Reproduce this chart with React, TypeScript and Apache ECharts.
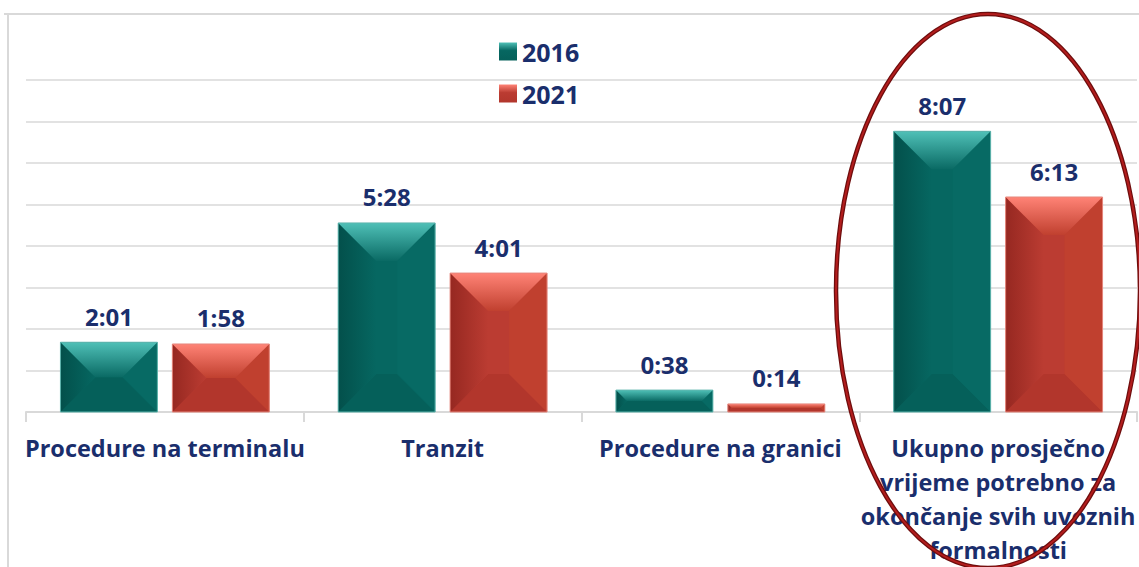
import React, { useEffect, useRef } from "react";
import * as echarts from "echarts";

const categories = [
  "Procedure na terminalu",
  "Tranzit",
  "Procedure na granici",
  "Ukupno prosječno\nvrijeme potrebno za\nokončanje svih uvoznih\nformalnosti",
];
const seriesNames = ["2016", "2021"];
// values in minutes
const values2016 = [121, 328, 38, 487];
const values2021 = [118, 241, 14, 373];
const yMax = 576;
const yInterval = 72;

const NAVY = "#1a2e6c";
const FONT = "'Open Sans', 'Noto Sans', sans-serif";

const fmt = (m: number) => `${Math.floor(m / 60)}:${String(m % 60).padStart(2, "0")}`;

const palettes = [
  {
    topA: "#4fc0b7",
    topB: "#0a6a64",
    left: "#03504b",
    leftB: "#066761",
    right: "#076a64",
    bottom: "#05605a",
    center: "#066761",
    edge: "#5fb5ae",
  },
  {
    topA: "#ff8376",
    topB: "#c0402f",
    left: "#962821",
    leftB: "#bb3c32",
    right: "#c0402f",
    bottom: "#b2362c",
    center: "#bb3c32",
    edge: "#e5877d",
  },
];

function makeRender(si: number) {
  const p = palettes[si];
  return (params: any, api: any) => {
    const ci = api.value(0);
    const v = api.value(1);
    const base = api.coord([ci, 0]);
    const topP = api.coord([ci, v]);
    const band = api.size([1, 0])[0];
    const w = band * 0.349;
    const gap = band * 0.054;
    const cx = base[0] + (si === 0 ? -(gap / 2 + w / 2) : gap / 2 + w / 2);
    const x0 = cx - w / 2;
    const x1 = cx + w / 2;
    const y0 = topP[1];
    const y1 = base[1];
    const h = y1 - y0;
    const b = Math.min(38, h / 2, w / 2);
    const lin = (a: string, c: string, horiz = false) =>
      new echarts.graphic.LinearGradient(0, 0, horiz ? 1 : 0, horiz ? 0 : 1, [
        { offset: 0, color: a },
        { offset: 1, color: c },
      ]);
    return {
      type: "group",
      children: [
        {
          type: "rect",
          shape: { x: x0, y: y0, width: w, height: h },
          style: { fill: p.center },
        },
        {
          type: "polygon",
          shape: { points: [[x0, y1], [x1, y1], [x1 - b, y1 - b], [x0 + b, y1 - b]] },
          style: { fill: p.bottom },
        },
        {
          type: "polygon",
          shape: { points: [[x1, y0], [x1 - b, y0 + b], [x1 - b, y1 - b], [x1, y1]] },
          style: { fill: p.right },
        },
        {
          type: "polygon",
          shape: { points: [[x0, y0], [x0 + b, y0 + b], [x0 + b, y1 - b], [x0, y1]] },
          style: { fill: lin(p.left, p.leftB, true) },
        },
        {
          type: "polygon",
          shape: { points: [[x0, y0], [x1, y0], [x1 - b, y0 + b], [x0 + b, y0 + b]] },
          style: { fill: lin(p.topA, p.topB) },
        },
        {
          type: "rect",
          shape: { x: x0, y: y0, width: w, height: h },
          style: { fill: "none", stroke: p.edge, lineWidth: 1 },
        },
        {
          type: "text",
          x: cx,
          y: y0 - 26,
          style: {
            text: fmt(v),
            align: "center",
            verticalAlign: "middle",
            font: `bold 24px ${FONT}`,
            fill: NAVY,
          },
        },
      ],
    };
  };
}

export default function App() {
  const ref = useRef<HTMLDivElement>(null);
  useEffect(() => {
    document.body.style.margin = "0";
    const chart = echarts.init(ref.current!, undefined, { renderer: "svg" });
    const allValues = [values2016, values2021];
    chart.setOption({
      animation: false,
      backgroundColor: "#ffffff",
      legend: {
        orient: "vertical",
        left: 499,
        top: 39,
        padding: 0,
        itemWidth: 18,
        itemHeight: 18,
        itemGap: 17,
        textStyle: { fontFamily: FONT, fontWeight: "bold", fontSize: 25, color: NAVY },
        data: seriesNames.map((n, i) => ({
          name: n,
          icon: "rect",
          itemStyle: {
            color: new echarts.graphic.LinearGradient(0, 0, 0, 1, [
              { offset: 0, color: palettes[i].topA },
              { offset: 0.45, color: palettes[i].center },
              { offset: 1, color: palettes[i].bottom },
            ]),
          },
        })),
      },
      grid: { left: 26, right: 2, top: 80, bottom: 154 },
      xAxis: {
        type: "category",
        data: categories,
        axisLine: { lineStyle: { color: "#d9d9d9", width: 2 } },
        axisTick: { show: true, length: 10, lineStyle: { color: "#d9d9d9", width: 2 } },
        axisLabel: {
          interval: 0,
          margin: 19,
          fontFamily: FONT,
          fontWeight: "bold",
          fontSize: 23.5,
          lineHeight: 34,
          color: NAVY,
        },
      },
      yAxis: {
        type: "value",
        min: 0,
        max: yMax,
        interval: yInterval,
        axisLabel: { show: false },
        axisLine: { show: false },
        axisTick: { show: false },
        splitLine: { lineStyle: { color: "#d9d9d9", width: 1.5 } },
      },
      series: seriesNames.map((n, si) => ({
        name: n,
        type: "custom",
        itemStyle: { color: palettes[si].center },
        renderItem: makeRender(si),
        encode: { x: 0, y: 1 },
        data: allValues[si].map((v, i) => [i, v]),
      })),
      graphic: [
        {
          type: "line",
          shape: { x1: 4, y1: 14, x2: 1139, y2: 14 },
          style: { stroke: "#d9d9d9", lineWidth: 2 },
        },
        {
          type: "line",
          shape: { x1: 8, y1: 14, x2: 8, y2: 567 },
          style: { stroke: "#d9d9d9", lineWidth: 2 },
        },
        {
          type: "ellipse",
          shape: { cx: 988, cy: 291, rx: 152, ry: 277 },
          style: { fill: "none", stroke: "#6e0d0d", lineWidth: 4.5 },
          z: 100,
        },
        {
          type: "ellipse",
          shape: { cx: 988, cy: 291, rx: 152, ry: 277 },
          style: { fill: "none", stroke: "#b31d1d", lineWidth: 2 },
          z: 101,
        },
      ],
    });
    return () => chart.dispose();
  }, []);
  return <div ref={ref} style={{ width: 1139, height: 567 }} />;
}
